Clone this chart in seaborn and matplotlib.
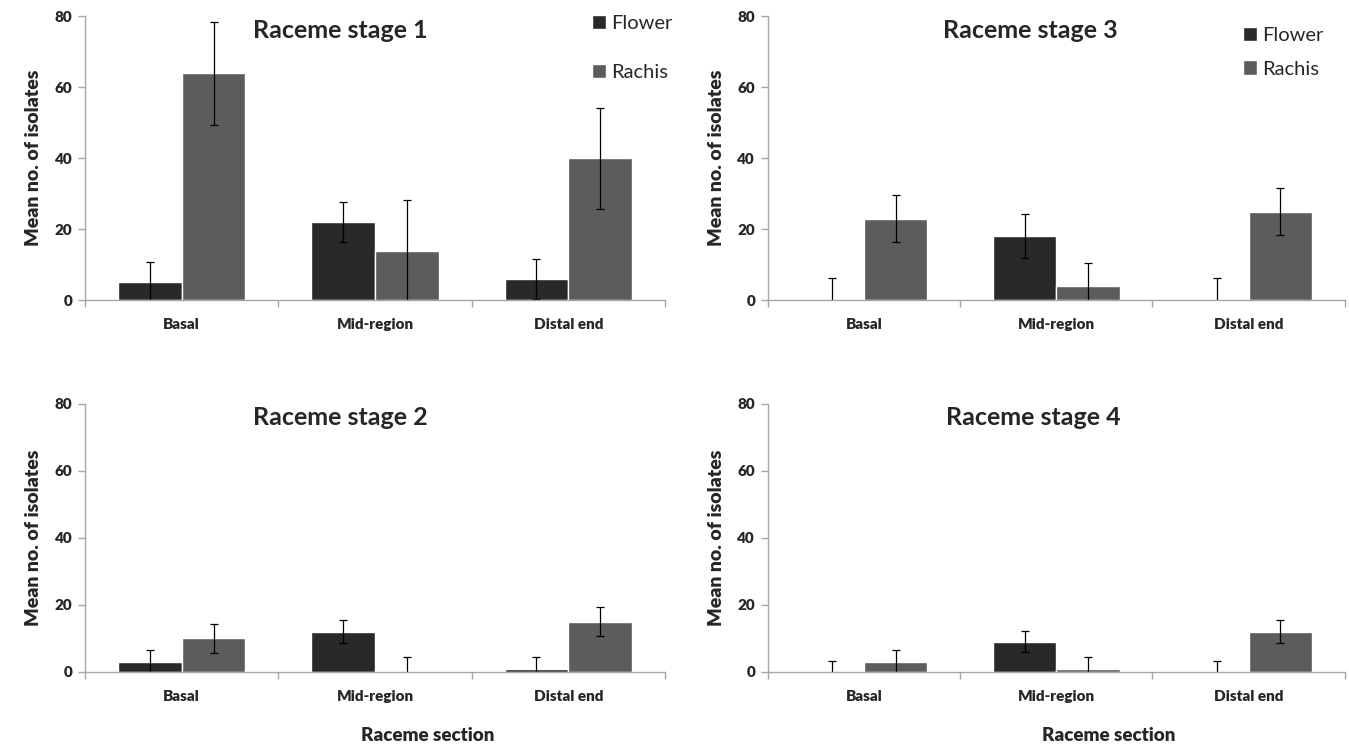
import numpy as np
import pandas as pd
import matplotlib
matplotlib.use("Agg")
import matplotlib.pyplot as plt
import seaborn as sns

sns.set_style("white")
plt.rcParams['font.family'] = ['Lato', 'DejaVu Sans']

# Data
sections = ["Basal", "Mid-region", "Distal end"]
parts = ["Flower", "Rachis"]
stages = ["Raceme stage 1", "Raceme stage 2", "Raceme stage 3", "Raceme stage 4"]

flower_mean = {1: [5, 22, 6], 2: [3, 12, 1], 3: [0, 18, 0], 4: [0, 9, 0]}
flower_err = {1: [5.7, 5.6, 5.7], 2: [3.5, 3.4, 3.5], 3: [6.2, 6.2, 6.2], 4: [3.3, 3.1, 3.3]}
rachis_mean = {1: [64, 14, 40], 2: [10, 0, 15], 3: [23, 4, 25], 4: [3, 1, 12]}
rachis_err = {1: [14.5, 14.3, 14.3], 2: [4.4, 4.5, 4.3], 3: [6.6, 6.6, 6.7], 4: [3.5, 3.6, 3.4]}

palette = {"Flower": "#292929", "Rachis": "#5c5c5c"}
axis_grey = "#a6a6a6"

fig = plt.figure(figsize=(13.49, 7.45), dpi=100)

# axes positions [left, bottom, width, height] in figure fraction
positions = {
    1: [0.063, 0.597, 0.430, 0.381],
    3: [0.569, 0.597, 0.428, 0.381],
    2: [0.063, 0.098, 0.430, 0.360],
    4: [0.569, 0.098, 0.428, 0.360],
}
title_x = {1: 0.44, 3: 0.455, 2: 0.44, 4: 0.46}

for st in [1, 2, 3, 4]:
    ax = fig.add_axes(positions[st])
    df = pd.DataFrame({
        "section": sections * 2,
        "part": ["Flower"] * 3 + ["Rachis"] * 3,
        "mean": flower_mean[st] + rachis_mean[st],
        "err": flower_err[st] + rachis_err[st],
    })
    sns.barplot(data=df, x="section", y="mean", hue="part", order=sections,
                hue_order=parts, palette=palette, width=0.66, errorbar=None,
                saturation=1, ax=ax, legend=(st in (1, 3)))

    # error bars at the bar centres
    for cont, part in zip(ax.containers, parts):
        sub = df[df["part"] == part].set_index("section").loc[sections]
        xs = [b.get_x() + b.get_width() / 2 for b in cont]
        ax.errorbar(xs, sub["mean"].values, yerr=sub["err"].values, fmt="none",
                    ecolor="black", elinewidth=0.9, capsize=3, capthick=0.9)

    ax.set_ylim(0, 80)
    ax.set_xlim(-0.5, 2.5)
    ax.set_yticks([0, 20, 40, 60, 80])
    ax.set_xticks([0, 1, 2])
    ax.set_xticks([-0.5, 0.5, 1.5, 2.5], minor=True)
    ax.tick_params(axis="x", which="major", length=0, pad=13, labelsize=11)
    ax.tick_params(axis="x", which="minor", length=5, color=axis_grey, width=1)
    ax.tick_params(axis="y", length=5, color=axis_grey, width=1, labelsize=11, pad=4)
    ax.tick_params(left=True, bottom=True)
    ax.tick_params(axis="x", which="minor", bottom=True)
    for lab in ax.get_xticklabels() + ax.get_yticklabels():
        lab.set_fontweight("heavy")

    for s in ["top", "right"]:
        ax.spines[s].set_visible(False)
    for s in ["left", "bottom"]:
        ax.spines[s].set_color(axis_grey)
        ax.spines[s].set_linewidth(1)

    ax.set_ylabel("Mean no. of isolates", fontsize=14, fontweight="heavy", labelpad=9)
    if st in (2, 4):
        ax.set_xlabel("Raceme section", fontsize=13.5, fontweight="heavy")
        ax.xaxis.set_label_coords(0.59, -0.235)
        ax.xaxis.label.set_va("center")
    else:
        ax.set_xlabel("")

    ax.text(title_x[st], 0.99, stages[st - 1], transform=ax.transAxes,
            ha="center", va="top", fontsize=18, fontweight="bold")

    if st in (1, 3):
        handles, labels = ax.get_legend_handles_labels()
        if st == 1:
            anchor, spacing = (0.86, 1.035), 1.6
        else:
            anchor, spacing = (0.81, 0.99), 0.8
        ax.legend(handles, labels, loc="upper left", bbox_to_anchor=anchor,
                  frameon=False, fontsize=14.5, labelspacing=spacing,
                  handlelength=0.7, handleheight=0.7, handletextpad=0.25,
                  borderaxespad=0)

fig.savefig("out.png", dpi=100, facecolor="white")
